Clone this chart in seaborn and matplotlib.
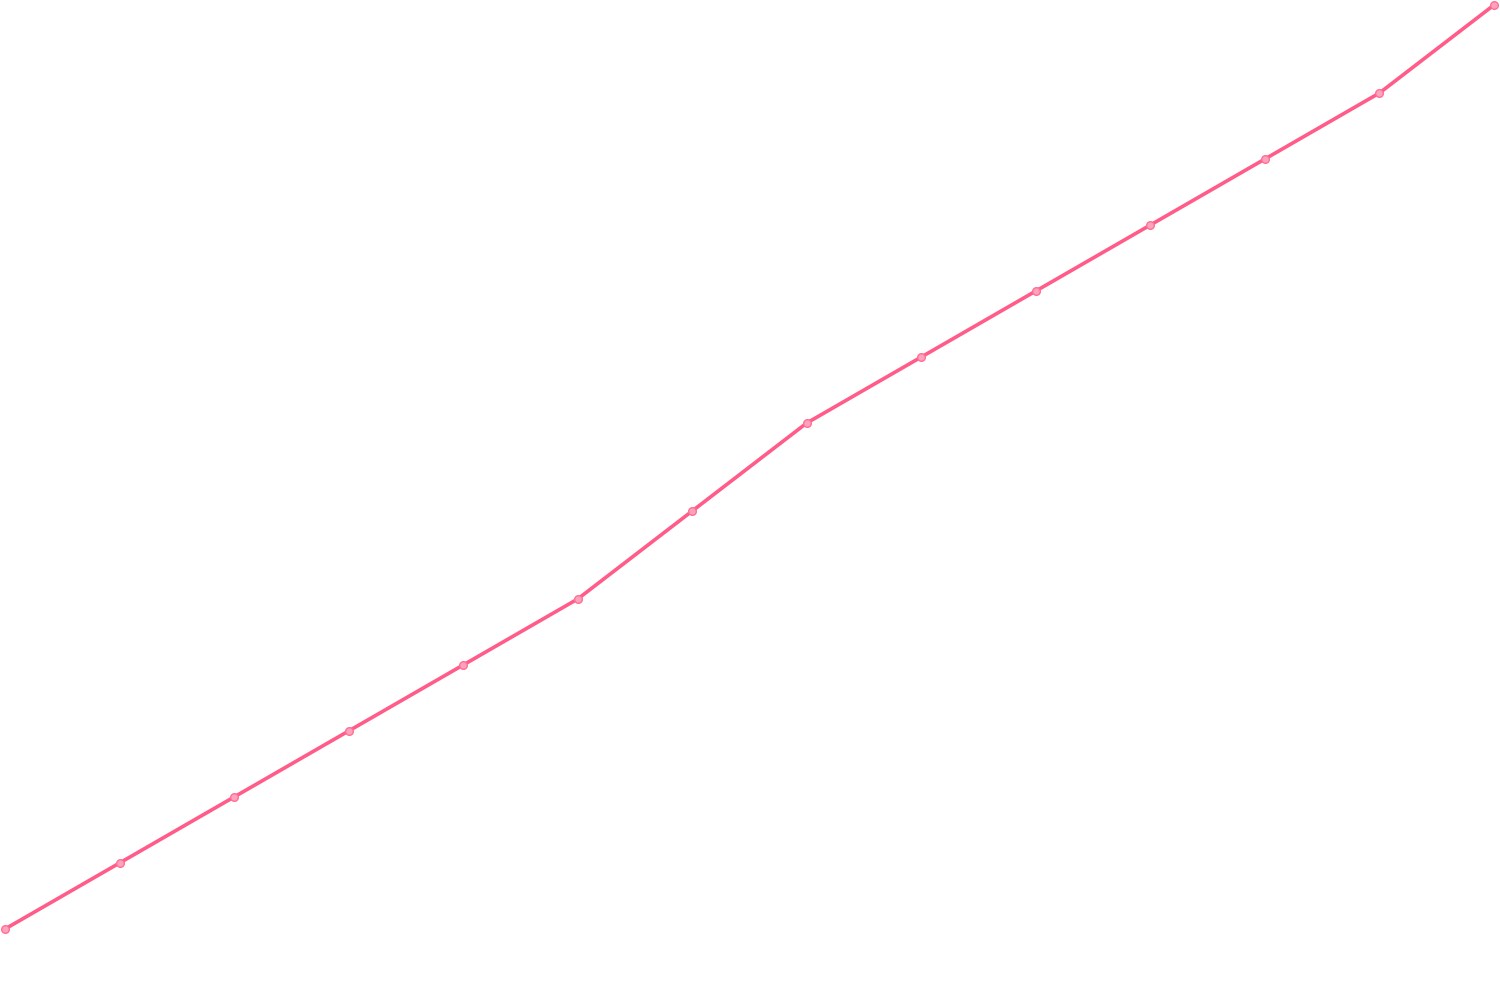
import pandas as pd
import matplotlib
matplotlib.use("Agg")
import matplotlib.pyplot as plt
import seaborn as sns

# données
etapes = list(range(14))
valeurs = [0, 3, 6, 9, 12, 15, 19, 23, 26, 29, 32, 35, 38, 42]

donnees = pd.DataFrame({"etape": etapes, "valeur": valeurs})

sns.set_theme(style="white")

fig = plt.figure(figsize=(15, 10), dpi=100)
ax = fig.add_axes([5 / 1500, 71 / 1000, 1489 / 1500, 924 / 1000])

sns.lineplot(
    data=donnees, x="etape", y="valeur", ax=ax,
    color="#ff5c8a", linewidth=2.6,
    marker="o", markersize=5.5, markerfacecolor="#ffa3bd",
    markeredgecolor="#ff6f95", markeredgewidth=1.0,
    clip_on=False,
)

ax.set_xlim(min(etapes), max(etapes))
ax.set_ylim(min(valeurs), max(valeurs))
ax.axis("off")

fig.savefig("out.png", dpi=100, facecolor="white")
